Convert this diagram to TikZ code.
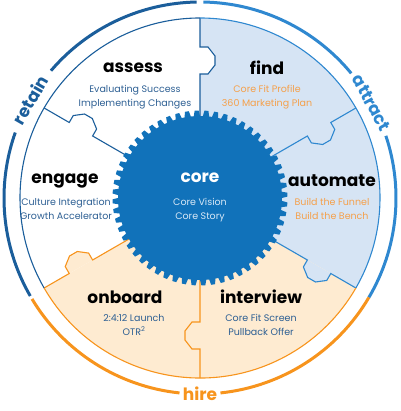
\documentclass[tikz,border=0pt]{standalone}
\usepackage{fontspec}
\setmainfont{Poppins}
\usetikzlibrary{calc}
\definecolor{retainblue}{HTML}{1B5E9B}
\definecolor{attractblue}{HTML}{2F88D0}
\definecolor{hireorange}{HTML}{F7941D}
\definecolor{gearblue}{HTML}{1172BA}
\definecolor{paleblue}{HTML}{D6E4F4}
\definecolor{paleorange}{HTML}{FEEBD1}
\definecolor{subblue}{HTML}{2D5F93}
\definecolor{suborange}{HTML}{F5A04A}
\definecolor{corelight}{HTML}{D8E8F6}
\begin{document}
\begin{tikzpicture}[x=1pt,y=1pt,
  title/.style={font=\fontsize{17}{17}\selectfont\bfseries,inner sep=0pt},
  sub/.style={font=\fontsize{9.5}{14}\selectfont,align=center,inner sep=0pt},
  ringlabel/.style={font=\fontsize{17}{17}\selectfont\bfseries,inner sep=0pt},
  ring/.style={line width=3pt},
  sector line/.style={line width=1.1pt,line join=miter}]
\useasboundingbox (-200,-213) rectangle (200,198);
% coloured sectors
\fill[paleblue] (0,0) -- (90:180) arc[start angle=90,end angle=-30,radius=180] -- cycle;
\fill[paleorange] (0,0) -- (-30:180) arc[start angle=-30,end angle=-150,radius=180] -- cycle;
% sector borders with notches
\foreach \a/\cl/\nf in {90/retainblue/white,150/retainblue/white,30/attractblue/paleblue,
  -30/attractblue/paleblue,-90/hireorange/paleorange,210/hireorange/paleorange}{
  \fill[\nf] (\a:124) -- ($(\a:124)+({\a-90}:8)$) -- ($(\a:133)+({\a-90}:15)$)
    -- ($(\a:142)+({\a-90}:15)$) -- ($(\a:151)+({\a-90}:8)$) -- (\a:151) -- cycle;
  \draw[\cl,sector line] (\a:80) -- (\a:124) -- ($(\a:124)+({\a-90}:8)$) -- ($(\a:133)+({\a-90}:15)$)
    -- ($(\a:142)+({\a-90}:15)$) -- ($(\a:151)+({\a-90}:8)$) -- (\a:151) -- (\a:180);
}
% inner circle
\draw[retainblue,sector line] (90:180) arc[start angle=90,end angle=210,radius=180];
\draw[attractblue,sector line] (90:180) arc[start angle=90,end angle=-30,radius=180];
\draw[hireorange,sector line] (210:180) arc[start angle=210,end angle=330,radius=180];
% gear, 56 teeth
\fill[gearblue] (0:82) \foreach \i in {0,...,55}{
  -- ({\i*6.42857+0.9}:87.5) -- ({\i*6.42857+3.5}:87.5) -- ({\i*6.42857+4.4}:82) -- ({(\i+1)*6.42857}:82)} -- cycle;
% outer ring
\draw[retainblue,ring] (91:196) arc[start angle=91,end angle=139.5,radius=196];
\draw[retainblue,ring] (160.5:196) arc[start angle=160.5,end angle=210,radius=196];
\draw[attractblue,ring] (89:196) arc[start angle=89,end angle=39.5,radius=196];
\draw[attractblue,ring] (18.5:196) arc[start angle=18.5,end angle=-30.5,radius=196];
\draw[hireorange,ring] (211:196) arc[start angle=211,end angle=264,radius=196];
\draw[hireorange,ring] (276:196) arc[start angle=276,end angle=329.5,radius=196];
\node[ringlabel,retainblue,rotate=60] (retain) at (150:196) {retain};
\node[ringlabel,attractblue,rotate=-61] (attract) at (29:196) {attract};
\node[ringlabel,hireorange] (hire) at (270:196) {hire};
% texts
\node[title,white] (core) at (0,20) {core};
\node[sub,corelight] (coresub) at (0,-12) {Core Vision\\Core Story};
\node[title] (assess) at (-67,130) {assess};
\node[sub,subblue] (assesssub) at (-65,101) {Evaluating Success\\Implementing Changes};
\node[title] (find) at (67,130) {find};
\node[sub,suborange] (findsub) at (67,101) {Core Fit Profile\\360 Marketing Plan};
\node[title] (engage) at (-135,17) {engage};
\node[sub,subblue] (engagesub) at (-134,-11) {Culture Integration\\Growth Accelerator};
\node[title] (automate) at (132,17) {automate};
\node[sub,suborange] (automatesub) at (132,-11) {Build the Funnel\\Build the Bench};
\node[title] (onboard) at (-75,-99) {onboard};
\node[sub,subblue] (onboardsub) at (-66,-127) {2:4:12 Launch\\OTR\textsuperscript{2}};
\node[title] (interview) at (61,-99) {interview};
\node[sub,subblue] (interviewsub) at (61,-127) {Core Fit Screen\\Pullback Offer};
\end{tikzpicture}
\end{document}
